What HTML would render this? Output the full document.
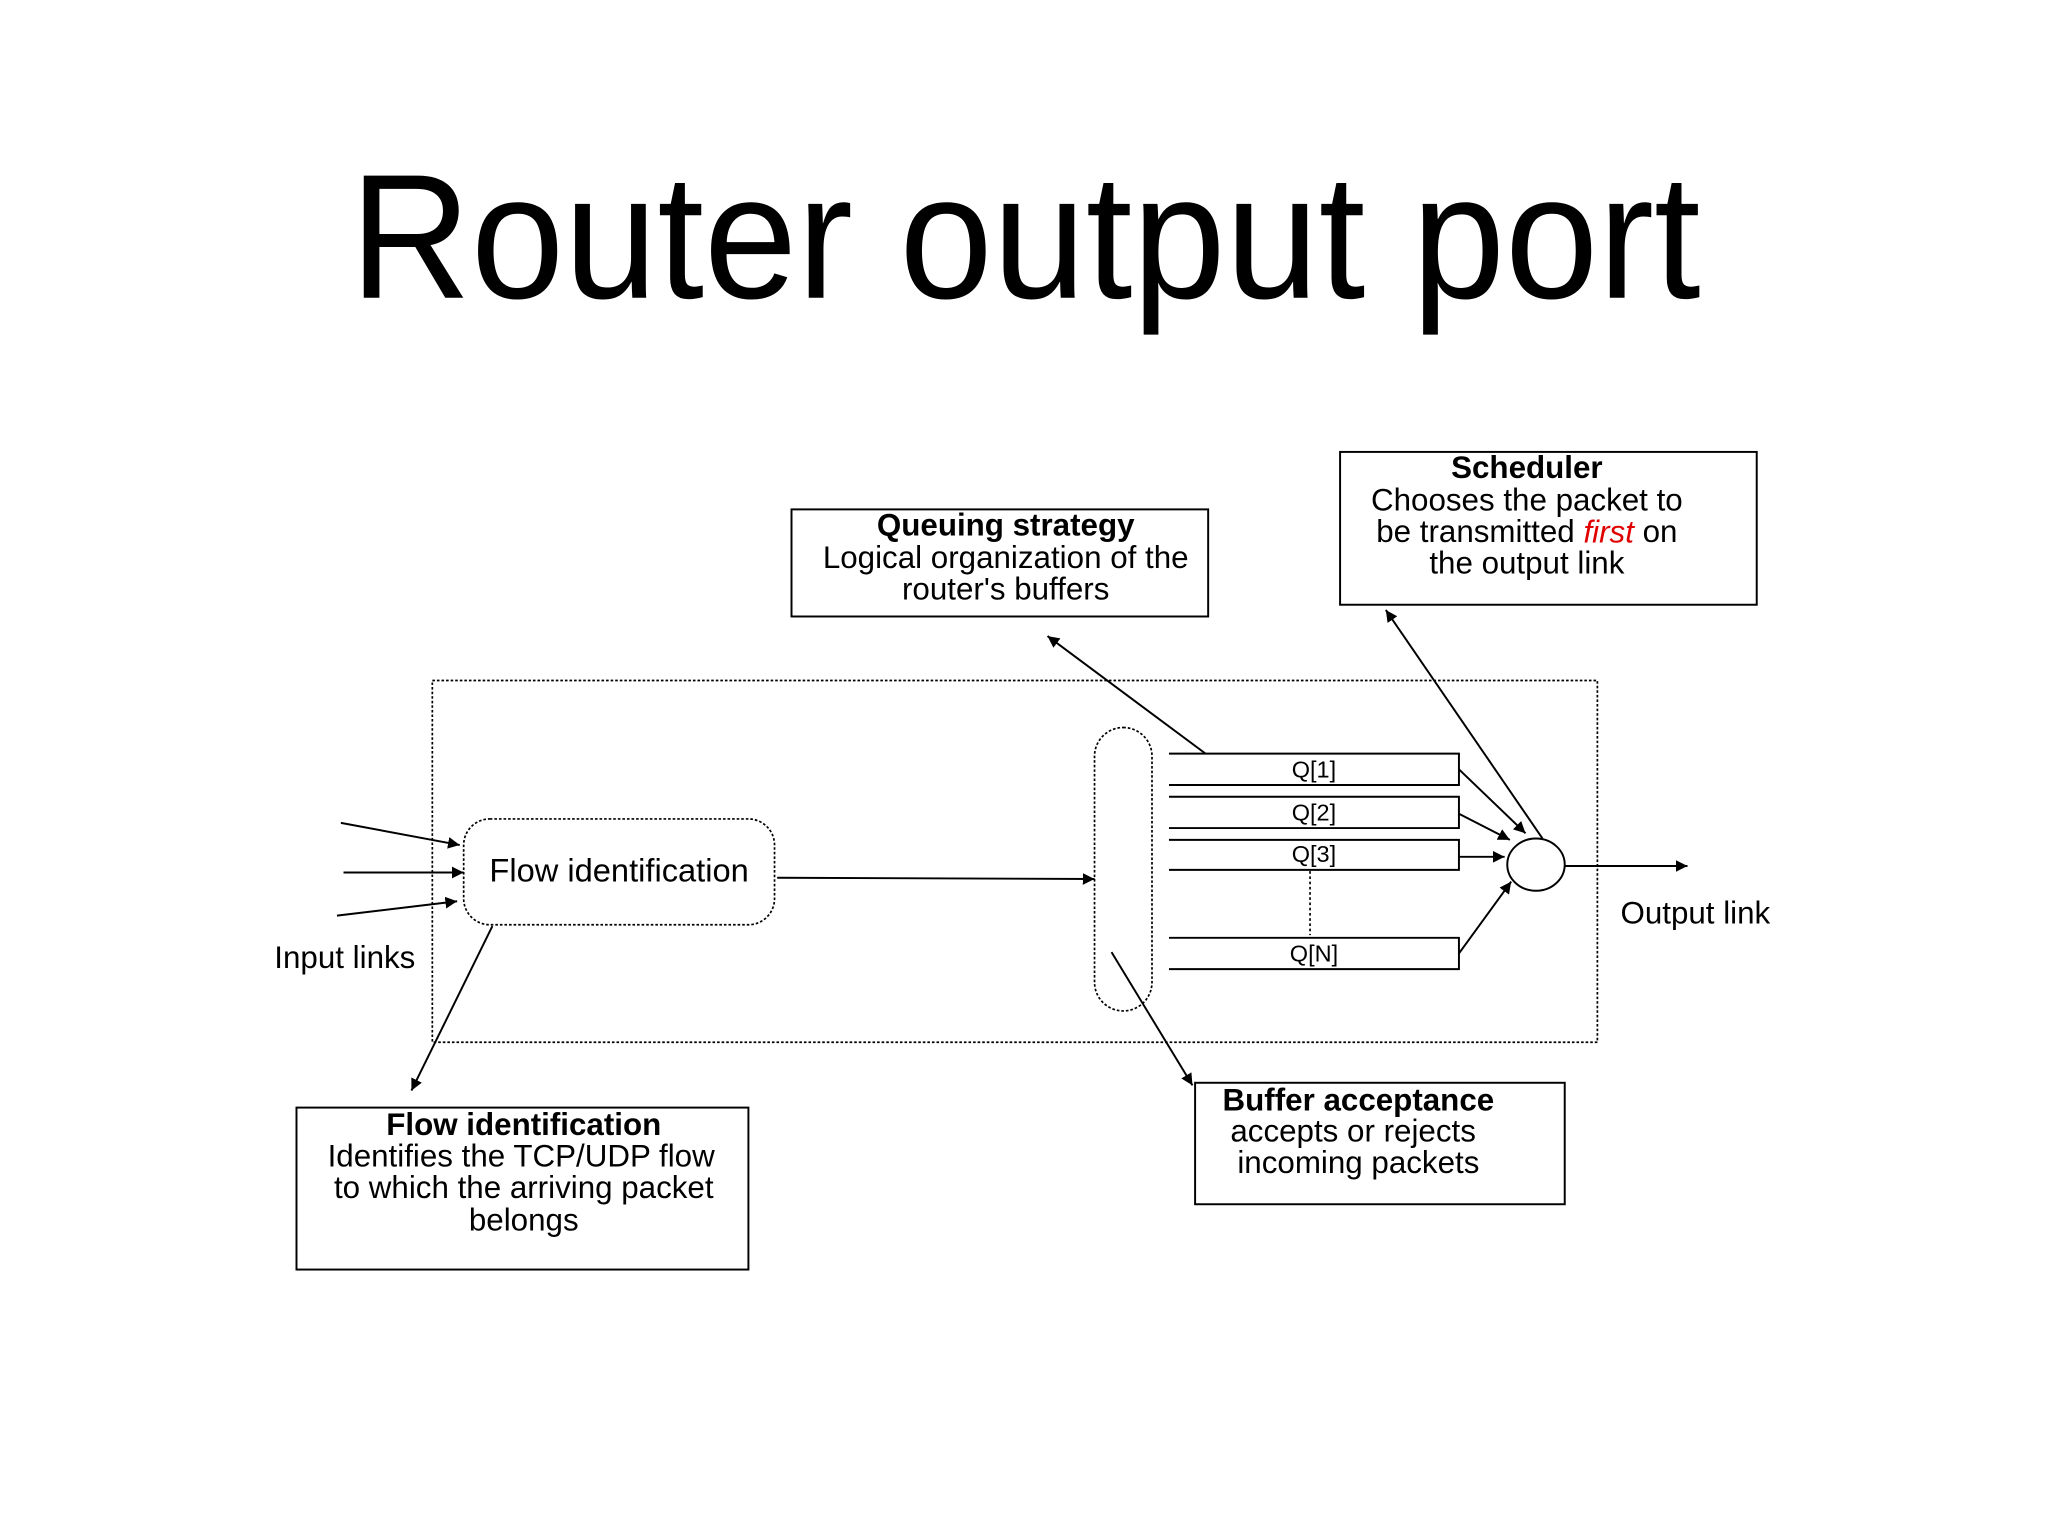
<!DOCTYPE html>
<html><head><meta charset="utf-8"><style>html,body{margin:0;padding:0;background:#fff}svg{display:block}</style></head><body>
<svg width="2048" height="1536" viewBox="0 0 1568 1176" xmlns="http://www.w3.org/2000/svg" font-family="Liberation Sans, Arial, sans-serif">
<defs><marker id="a" viewBox="0 0 10 10" refX="10" refY="5" markerWidth="9" markerHeight="9" orient="auto" markerUnits="userSpaceOnUse"><path d="M0,0L10,5L0,10z" fill="#000"/></marker></defs>
<rect width="1568" height="1176" fill="#fff"/>
<text x="785" y="228" font-size="136" text-anchor="middle" textLength="1034" lengthAdjust="spacingAndGlyphs">Router output port</text>
<g fill="none" stroke="#000" stroke-width="1.3">
<rect x="331" y="521" width="892" height="277" stroke-dasharray="2,1.5"/>
<rect x="355" y="627" width="238" height="81" rx="20" stroke-dasharray="2,1.5"/>
<rect x="838" y="557" width="44" height="217" rx="22" stroke-dasharray="2,1.5"/>
<line x1="1003" y1="667" x2="1003" y2="716" stroke-dasharray="2,2"/>
</g>
<g fill="none" stroke="#000" stroke-width="1.5">
<path d="M895,577H1117V601H895M895,610H1117V634H895M895,643H1117V666H895M895,718H1117V742H895"/>
<ellipse cx="1176" cy="662" rx="22" ry="20"/>
<rect x="606" y="390" width="319" height="82"/>
<rect x="1026" y="346" width="319" height="117"/>
<rect x="915" y="829" width="283" height="93"/>
<rect x="227" y="848" width="346" height="124"/>
</g>
<g stroke="#000" stroke-width="1.5" marker-end="url(#a)">
<line x1="261" y1="630" x2="352" y2="647"/>
<line x1="263" y1="668" x2="355" y2="668"/>
<line x1="258" y1="701" x2="350" y2="690"/>
<line x1="595" y1="672" x2="838" y2="673"/>
<line x1="1117" y1="589" x2="1168" y2="638"/>
<line x1="1117" y1="623" x2="1156" y2="643"/>
<line x1="1117" y1="656" x2="1152" y2="656"/>
<line x1="1117" y1="730" x2="1157" y2="675"/>
<line x1="1198" y1="663" x2="1292" y2="663"/>
<line x1="923" y1="577" x2="802" y2="487"/>
<line x1="1181" y1="642" x2="1061" y2="467"/>
<line x1="851" y1="729" x2="913" y2="831"/>
<line x1="377" y1="709" x2="315" y2="835"/>
</g>
<g font-size="24" text-anchor="middle" dominant-baseline="central">
<text x="474" y="666" font-size="25">Flow identification</text>
<text x="264" y="733">Input links</text>
<text x="1298" y="699">Output link</text>
<text x="1006" y="589" font-size="18">Q[1]</text>
<text x="1006" y="622" font-size="18">Q[2]</text>
<text x="1006" y="654" font-size="18">Q[3]</text>
<text x="1006" y="730" font-size="18">Q[N]</text>
<text x="770" y="402" font-weight="bold">Queuing strategy</text>
<text x="770" y="427">Logical organization of the</text>
<text x="770" y="451">router's buffers</text>
<text x="1169" y="358" font-weight="bold">Scheduler</text>
<text x="1169" y="383">Chooses the packet to</text>
<text x="1169" y="407">be transmitted <tspan fill="#e00000" font-style="italic">first</tspan> on</text>
<text x="1169" y="431">the output link</text>
<text x="1040" y="842" font-weight="bold">Buffer acceptance</text>
<text x="1036" y="866">accepts or rejects</text>
<text x="1040" y="890">incoming packets</text>
<text x="401" y="861" font-weight="bold">Flow identification</text>
<text x="399" y="885">Identifies the TCP/UDP flow</text>
<text x="401" y="909">to which the arriving packet</text>
<text x="401" y="934">belongs</text>
</g>
</svg>
</body></html>
